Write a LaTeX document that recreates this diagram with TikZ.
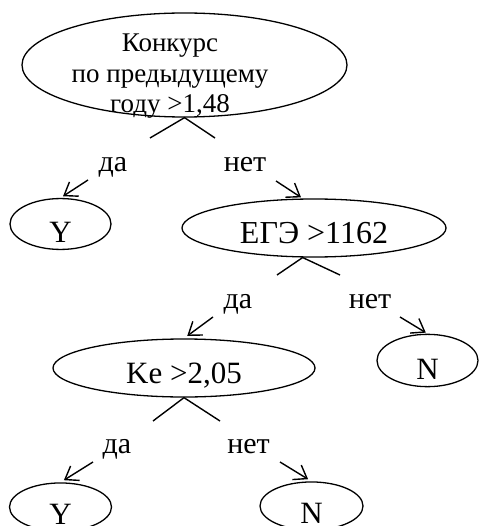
\documentclass[tikz,border=0pt]{standalone}
\usepackage{fontspec}
\setmainfont{Liberation Serif}
\usetikzlibrary{shapes.geometric,arrows.meta}
\begin{document}
\begin{tikzpicture}[x=1pt,y=-1pt,
  oval/.style={draw, ellipse, line width=1.3pt, inner sep=0pt, font=\fontsize{31}{34}\selectfont, text depth=0pt},
  lbl/.style={anchor=base, inner sep=0pt, font=\fontsize{30}{34}\selectfont},
  arr/.style={line width=1.4pt, -{Straight Barb[length=12pt,width=17pt,line width=1.4pt]}},
  chev/.style={line width=1.4pt}]
\useasboundingbox (0,0) rectangle (479,526);
\clip (0,0) rectangle (479,526);

% nodes
\node[oval, minimum width=325pt, minimum height=104pt] (root) at (184.5,65) {};
\node[align=center, inner sep=0pt, anchor=base, font=\fontsize{27}{30.5}\selectfont] (roottext) at (170,113) {Конкурс\\по предыдущему\\году >1,48};
\node[oval, minimum width=101pt, minimum height=48pt, text height=36pt] (y1) at (60.5,224) {Y\hspace{8pt}};
\node[oval, minimum width=264pt, minimum height=58pt, text height=30pt, font=\fontsize{32}{34}\selectfont] (ege) at (314,228) {ЕГЭ >1162\hspace{22pt}};
\node[oval, minimum width=262pt, minimum height=58pt, text height=30pt] (ke) at (184,368) {Ke >2,05\hspace{22pt}};
\node[oval, minimum width=101pt, minimum height=49pt, text height=37pt] (n1) at (427.5,360.5) {N\hspace{7pt}};
\node[oval, minimum width=102pt, minimum height=48pt, text height=34pt] (y2) at (60.5,507) {Y\hspace{6pt}};
\node[oval, minimum width=103pt, minimum height=48pt, text height=34pt] (n2) at (311.5,506) {N\hspace{4pt}};

% yes/no labels
\node[lbl] (da1) at (113,172) {да};
\node[lbl] (net1) at (245,172) {нет};
\node[lbl] (da2) at (238,308) {да};
\node[lbl] (net2) at (370,308) {нет};
\node[lbl] (da3) at (117,453) {да};
\node[lbl] (net3) at (248.5,453) {нет};

% chevrons
\coordinate (c1l) at (150,138); \coordinate (c1r) at (215,138);
\coordinate (c2l) at (277,275); \coordinate (c2r) at (340,275);
\coordinate (c3l) at (153,421); \coordinate (c3r) at (220,421);
\draw[chev] (c1l) -- (root.south) -- (c1r);
\draw[chev] (c2l) -- (ege.249) -- (c2r);
\draw[chev] (c3l) -- (ke.south) -- (c3r);

% arrows
\coordinate (s1) at (88,180);
\coordinate (s2) at (276,181);
\coordinate (s3) at (213,317);
\coordinate (s4) at (400,317);
\coordinate (s5) at (93,462);
\coordinate (s6) at (280,462);
\draw[arr, shorten >=3pt] (s1) -- (y1.north);
\draw[arr, shorten >=2pt] (s2) -- (ege.111);
\draw[arr, shorten >=4pt] (s3) -- (ke.north);
\draw[arr, shorten >=2pt] (s4) -- (n1.north);
\draw[arr, shorten >=4pt] (s5) -- (y2.north);
\draw[arr, shorten >=4pt] (s6) -- (n2.north);
\end{tikzpicture}
\end{document}
